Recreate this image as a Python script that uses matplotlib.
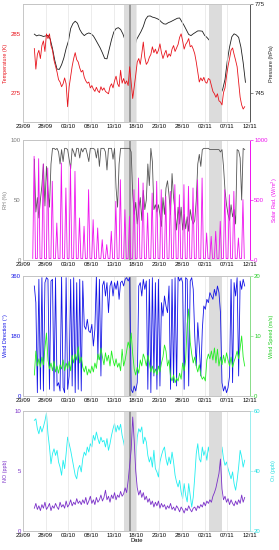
import numpy as np
import pandas as pd
import matplotlib
matplotlib.use("Agg")
import matplotlib.pyplot as plt
import matplotlib.dates as mdates

plt.rcParams["font.family"] = ["Liberation Sans", "DejaVu Sans"]

start = pd.Timestamp("2017-09-23")
end = pd.Timestamp("2017-11-12")
tick_dates = pd.date_range(start, end, freq="5D")

# first sample: 25/09 12:00, every 8 hours
first_day = 2.5
step = 1.0 / 3.0

temperature = [
    282.5, 279.0, 281.5, 282.2, 280.8, 283.0, 283.8, 282.0, 285.0, 284.2, 285.0, 283.0,
    282.2, 280.5, 279.5, 278.5, 277.2, 276.8, 276.0, 276.5, 277.5, 276.5, 272.6, 276.0,
    277.8, 279.5, 280.8, 281.8, 280.6, 280.2, 279.2, 278.5, 278.8, 277.6, 277.0, 276.6,
    276.8, 275.8, 276.2, 275.6, 275.2, 275.9, 275.3, 275.0, 276.0, 275.4, 275.8, 275.2,
    275.0, 274.8, 276.0, 276.5, 275.8, 277.0, 277.8, 276.5, 276.0, 278.8, 276.6, 277.4,
    276.5, 277.0, 276.2, 279.4, 276.6, 274.0, 276.0, 278.0, 280.2, 280.8, 279.8, 281.6,
    283.6, 281.0, 279.8, 280.2, 281.0, 281.5, 282.8, 281.8, 282.4, 281.6, 282.2, 283.3,
    281.8, 280.8, 281.6, 282.2, 281.0, 281.6, 281.2, 282.4, 283.0, 282.0, 282.6, 283.2,
    284.4, 285.0, 283.8, 282.4, 283.2, 283.6, 284.2, 282.8, 283.0, 282.4, 281.6, 280.2,
    278.5, 276.8, 277.5, 277.0, 277.6, 276.8, 276.6, 277.4, 277.2, 276.2, 275.2, 274.8,
    274.2, 274.8, 273.6, 273.4, 272.9, 275.0, 275.8, 277.8, 279.5, 280.8, 282.2, 282.6,
    281.5, 280.5, 279.4, 276.8, 274.2, 272.9, 272.2, 272.6,
]

# pressure every 12 hours from 25/09 12:00
pressure = [
    764.9, 764.3, 764.6, 764.4, 764.1, 764.3, 764.5, 763.2, 760.0, 756.0, 753.0, 752.9,
    754.5, 756.8, 760.0, 762.5, 766.8, 768.5, 769.3, 768.6, 766.5, 765.2, 764.4, 765.0,
    765.3, 765.0, 764.3, 763.0, 761.6, 760.2, 758.5, 756.6, 756.5, 759.8, 763.0, 765.6,
    766.8, 767.1, 766.5, 765.0, 762.8, 759.0, 755.5, 755.8, 759.8, 763.0, 764.4, 765.8,
    767.5, 769.9, 771.0, 771.1, 770.7, 770.5, 770.2, 769.8, 769.0, 768.4, 768.3, 768.8,
    769.1, 769.5, 769.9, 770.3, 770.4, 769.1, 767.8, 766.3, 764.8, 764.4, 765.0, 765.5,
    766.0, 766.0, 765.9, 764.5, 763.8, 762.9, 761.6, 759.0, 754.5, 747.0, 744.3, 746.2,
    749.5, 755.8, 760.5, 764.0, 765.0, 764.6, 763.8, 760.5, 755.2, 748.5,
]

rh = [
    84, 40, 52, 35, 50, 62, 80, 45, 78, 58, 44, 80, 93, 93, 92, 93, 90, 80, 92, 82,
    93, 93, 92, 84, 76, 93, 90, 86, 93, 93, 85, 93, 90, 93, 93, 88, 82, 93, 93, 93,
    92, 85, 93, 78, 93, 93, 93, 90, 75, 93, 93, 93, 84, 93, 60, 44, 80, 93, 93, 93,
    93, 93, 93, 93, 90, 55, 38, 48, 30, 42, 52, 33, 58, 42, 50, 80, 62, 93, 82, 42,
    46, 40, 46, 38, 28, 52, 38, 60, 66, 54, 38, 72, 52, 40, 25, 44, 30, 44, 25, 38,
    26, 36, 24, 42, 34, 30, 33, 50, 80, 88, 78, 92, 93, 93, 93, 93, 92, 92, 92, 92,
    92, 92, 92, 90, 92, 78, 58, 46, 38, 33, 46, 36, 42, 30, 92, 91, 85, 50, 93, 92,
]

# daily maximum of solar radiation, one value per day from 25/09
solar_peak = [
    864, 844, 800, 767, 656, 308, 808, 600, 794, 739, 350, 281, 586, 336, 267, 169,
    128, 239, 489, 669, 419, 364, 586, 683, 642, 392, 558, 656, 586, 531, 572, 628,
    544, 628, 614, 600, 669, 683, 225, 197, 239, 322, 586, 544, 572, 183, 503,
]
solar_night = 12

wind_dir = [
    330, 280, 10, 350, 20, 355, 15, 340, 355, 350, 20, 345, 350, 15, 355, 30, 40, 15,
    360, 25, 10, 355, 20, 60, 350, 30, 355, 10, 340, 20, 350, 15, 345, 210, 200, 230,
    195, 190, 215, 150, 200, 360, 110, 350, 60, 330, 345, 300, 340, 250, 330, 345, 300,
    340, 320, 345, 290, 340, 345, 330, 350, 355, 345, 355, 20, 10, 30, 15, 40, 330,
    340, 300, 350, 320, 345, 20, 350, 10, 355, 60, 340, 20, 350, 30, 280, 240, 300,
    270, 250, 330, 20, 350, 40, 355, 30, 360, 345, 355, 340, 20, 355, 350, 30, 345,
    355, 320, 180, 90, 220, 150, 60, 200, 270, 260, 290, 280, 310, 300, 290, 320, 300,
    330, 310, 250, 40, 15, 30, 10, 25, 60, 350, 40, 340, 300, 355, 60, 345, 320, 350,
    330,
]

wind_speed = [
    3.5, 7.5, 5.0, 6.2, 4.8, 6.5, 5.2, 8.0, 10.5, 6.0, 4.5, 5.5, 4.2, 5.8, 4.0, 5.0,
    3.8, 5.2, 4.5, 6.0, 4.2, 5.5, 4.6, 5.8, 4.2, 6.8, 5.5, 7.0, 6.0, 8.2, 5.5, 6.5,
    4.8, 4.0, 5.0, 3.5, 4.5, 3.8, 5.0, 4.0, 5.5, 4.6, 7.0, 6.0, 8.0, 6.5, 5.2, 7.2,
    5.8, 6.8, 5.0, 7.5, 6.0, 5.0, 6.2, 4.8, 5.5, 4.2, 7.8, 5.0, 6.0, 7.5, 9.0, 8.0,
    10.5, 7.0, 4.5, 3.5, 4.8, 3.8, 6.0, 5.0, 7.0, 6.2, 5.0, 6.8, 5.5, 4.0, 5.0, 3.8,
    4.5, 3.5, 5.0, 4.0, 5.5, 6.5, 8.5, 7.5, 5.0, 6.0, 3.2, 2.5, 3.5, 2.2, 3.0, 2.5,
    3.8, 2.8, 5.5, 4.2, 6.0, 12.0, 14.5, 9.0, 7.0, 5.5, 6.5, 5.0, 4.0, 5.2, 3.5, 2.8,
    3.2, 2.5, 6.0, 7.0, 6.2, 7.5, 6.0, 8.0, 5.5, 7.8, 5.0, 6.5, 5.2, 6.8, 5.5, 7.2,
    6.0, 5.0, 6.5, 4.8, 5.8, 6.5, 7.5, 6.2, 8.0, 10.0, 6.5, 5.0,
]

no = [
    1.9, 2.3, 1.8, 2.1, 1.7, 2.2, 1.9, 2.4, 1.8, 2.0, 2.3, 1.7, 2.1, 1.9, 2.3, 2.0,
    1.8, 2.4, 2.0, 2.2, 1.9, 2.5, 2.0, 2.2, 2.6, 2.1, 2.4, 2.2, 2.7, 2.3, 2.5, 2.2,
    2.6, 2.3, 2.8, 2.2, 2.5, 2.9, 2.3, 2.6, 2.2, 2.8, 2.4, 2.6, 3.0, 2.5, 2.8, 3.4,
    2.6, 2.9, 2.4, 3.0, 2.7, 3.2, 2.6, 3.0, 2.8, 3.3, 2.9, 3.1, 3.6, 3.2, 4.2, 5.5,
    6.8, 9.5, 7.5, 5.0, 3.6, 3.0, 3.4, 2.8, 3.2, 2.6, 2.9, 2.4, 2.7, 2.2, 2.5, 2.0,
    2.4, 2.1, 2.5, 1.9, 2.3, 2.0, 2.2, 1.8, 2.1, 1.9, 2.3, 1.8, 2.0, 1.7, 2.1, 1.9,
    1.6, 2.0, 1.8, 1.5, 1.9, 1.7, 2.1, 1.8, 1.6, 1.9, 2.0, 1.7, 2.1, 1.9, 2.2, 2.0,
    2.4, 2.1, 2.5, 2.3, 2.6, 2.4, 2.9, 3.2, 3.6, 4.2, 4.8, 6.0, 3.5, 2.6, 2.9, 2.4,
    2.7, 2.2, 2.6, 2.3, 2.1, 2.5, 2.2, 2.6, 2.3, 3.0, 2.4, 2.8,
]

o3 = [
    56.9, 57.4, 54.1, 52.4, 54.9, 53.0, 54.7, 56.7, 59.3, 52.4, 48.0, 42.4, 45.8, 47.4,
    45.2, 46.9, 43.0, 41.3, 38.6, 43.6, 40.8, 45.8, 51.3, 49.1, 46.9, 44.1, 41.3, 38.6,
    37.4, 40.8, 41.9, 39.7, 44.1, 46.3, 45.2, 48.0, 46.3, 49.1, 48.0, 51.9, 50.2, 53.0,
    50.8, 49.1, 51.3, 49.7, 50.2, 48.0, 50.8, 46.9, 49.1, 51.9, 54.1, 55.8, 53.0, 55.2,
    53.6, 55.6, 51.9, 49.7, 46.9, 44.7, 43.6, 49.1, 53.6, 51.3, 48.0, 43.6, 51.3, 54.1,
    53.0, 54.7, 49.1, 51.3, 49.7, 45.2, 43.0, 44.7, 41.3, 46.9, 40.8, 39.7, 38.0, 43.0,
    45.2, 46.9, 48.0, 44.1, 41.9, 44.7, 42.4, 46.3, 43.0, 38.6, 36.3, 34.7, 36.9, 33.0,
    30.8, 35.8, 31.9, 29.7, 35.8, 31.9, 28.0, 31.3, 38.0, 45.8, 49.1, 44.1, 43.0, 48.0,
    45.2, 46.9, 43.6, 48.0, 45.2, 41.9, 43.6, 39.7, 44.7, 39.1, 46.9, 41.9, 48.0, 44.1,
    41.9, 43.0, 40.8, 39.1, 37.4, 39.7, 35.8, 33.6, 36.9, 41.3, 46.9, 44.7, 41.3, 43.6,
]

# shaded episodes (days after 23/09) and the marked event inside the first one
episodes = [(22.3, 24.8), (41.0, 43.8)]
event_day = 23.55


def to_dates(days):
    return start + pd.to_timedelta(np.asarray(days), unit="D")


def regular_dates(values, dt):
    return to_dates(first_day + dt * np.arange(len(values)))


def solar_series(peaks, night):
    days, vals = [], []
    for i, pk in enumerate(peaks):
        d = 2 + i
        days += [d + 0.15, d + 0.45, d + 0.75]
        vals += [night, pk, night]
    return to_dates(days), vals


def add_episodes(ax):
    for x0, x1 in episodes:
        ax.axvspan(to_dates(x0), to_dates(x1), color="#dcdcdc", zorder=0, lw=0)
    ax.axvline(to_dates(event_day), color="#8c8c8c", linewidth=1.2, zorder=0.5)


fig = plt.figure(figsize=(2.79, 5.5), dpi=100)
boxes = [
    [0.0824, 0.7782, 0.8136, 0.2137],
    [0.0824, 0.5273, 0.8136, 0.2182],
    [0.0824, 0.2800, 0.8136, 0.2182],
    [0.0824, 0.0345, 0.8136, 0.2182],
]
fs_tick = 4.3
fs_label = 3.9
lw = 0.6


def style_panel(ax, ax2, lcolor, rcolor, lticks, rticks, llim, rlim, llabel, rlabel, rspine):
    ax.set_xlim(start, end)
    ax.set_xticks(tick_dates)
    ax.xaxis.set_major_formatter(mdates.DateFormatter("%d/%m"))
    ax.grid(axis="x", color="#e4e4e4", linewidth=0.5)
    ax.tick_params(axis="x", length=0, labelsize=fs_tick, pad=1.5)
    ax.set_ylim(*llim)
    ax.set_yticks(lticks)
    ax.tick_params(axis="y", length=0, labelsize=fs_tick, labelcolor=lcolor, pad=1.5)
    ax.set_ylabel(llabel, color=lcolor, fontsize=fs_label)
    ax.yaxis.set_label_coords(-0.068, 0.5)
    ax2.set_ylim(*rlim)
    ax2.set_yticks(rticks)
    ax2.tick_params(axis="y", length=2, width=0.5, color=rspine, labelsize=fs_tick,
                    labelcolor=rcolor, pad=1)
    ax2.set_ylabel(rlabel, color=rcolor, fontsize=fs_label)
    ax2.yaxis.set_label_coords(1.085, 0.5)
    for a in (ax, ax2):
        for side in ("left", "top", "bottom"):
            a.spines[side].set_color("#c4c4c4")
            a.spines[side].set_linewidth(0.6)
        a.spines["right"].set_color(rspine)
        a.spines["right"].set_linewidth(0.6)
    add_episodes(ax)


# Panel 1: temperature and pressure
ax1 = fig.add_axes(boxes[0])
ax1b = ax1.twinx()
ax1b.plot(regular_dates(pressure, 0.5), pressure, color="#1e1e1e", linewidth=lw)
ax1.plot(regular_dates(temperature, step), temperature, color="#e8141c", linewidth=lw)
ax1.set_zorder(ax1b.get_zorder() + 1)
ax1.patch.set_visible(False)
style_panel(ax1, ax1b, "#e8141c", "#1e1e1e", [275, 285], [745, 775], (270, 290), (735, 775),
            "Temperature (K)", "Pressure (hPa)", "#555555")
add_episodes(ax1b)

# Panel 2: RH and solar radiation
ax2 = fig.add_axes(boxes[1])
ax2b = ax2.twinx()
ax2.plot(regular_dates(rh, step), rh, color="#555555", linewidth=lw)
sd, sv = solar_series(solar_peak, solar_night)
ax2b.plot(sd, sv, color="#ee11ee", linewidth=lw)
style_panel(ax2, ax2b, "#7a7a7a", "#ee11ee", [0, 50, 100], [0, 500, 1000], (0, 100), (0, 1000),
            "RH (%)", "Solar Rad. (W/m$^2$)", "#ee11ee")

# Panel 3: wind direction and speed
ax3 = fig.add_axes(boxes[2])
ax3b = ax3.twinx()
ax3.plot(regular_dates(wind_dir, step), wind_dir, color="#1414e6", linewidth=lw)
ax3b.plot(regular_dates(wind_speed, step), wind_speed, color="#22ee22", linewidth=lw)
style_panel(ax3, ax3b, "#1414e6", "#22cc22", [0, 180, 360], [0, 10, 20], (0, 360), (0, 20),
            "Wind Direction (°)", "Wind Speed (m/s)", "#88dd88")

# Panel 4: NO and O3
ax4 = fig.add_axes(boxes[3])
ax4b = ax4.twinx()
ax4b.plot(regular_dates(o3, step), o3, color="#22eef0", linewidth=lw)
ax4.plot(regular_dates(no, step), no, color="#7a2fc8", linewidth=lw)
ax4.set_zorder(ax4b.get_zorder() + 1)
ax4.patch.set_visible(False)
style_panel(ax4, ax4b, "#7a2fc8", "#22dde0", [0, 5, 10], [20, 40, 60], (0, 10), (20, 60),
            "NO (ppb)", "O$_3$ (ppb)", "#99eeee")
add_episodes(ax4b)
ax4.set_xlabel("Date", fontsize=fs_label + 0.3, labelpad=0)

fig.savefig("out.png", dpi=100)
